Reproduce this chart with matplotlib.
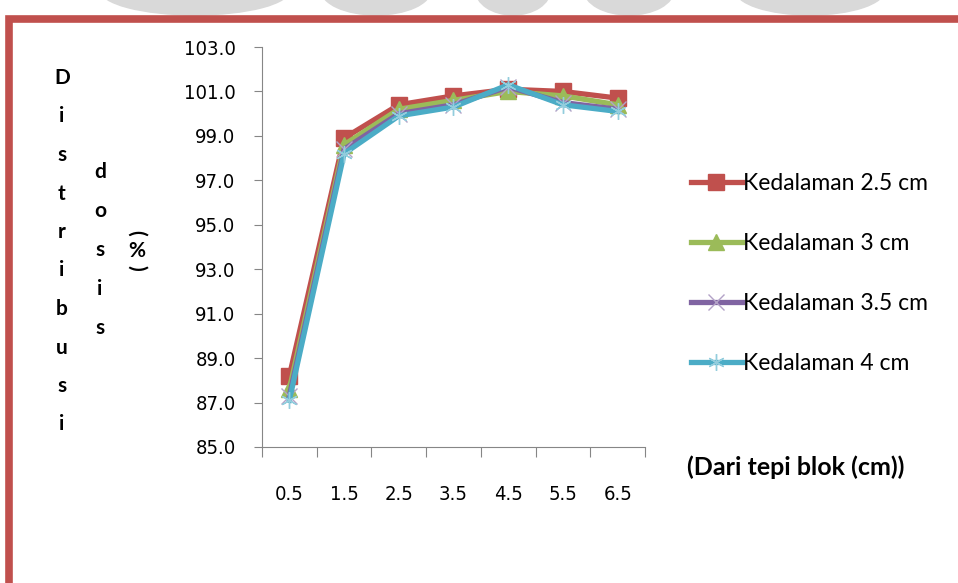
import numpy as np
import matplotlib.pyplot as plt
from matplotlib.lines import Line2D
from matplotlib.patches import Ellipse

# jarak dari tepi blok (cm) dan distribusi dosis (%) untuk tiap kedalaman
jarak = ["0.5", "1.5", "2.5", "3.5", "4.5", "5.5", "6.5"]
d25 = [88.2, 98.9, 100.4, 100.8, 101.1, 101.0, 100.7]
d30 = [87.6, 98.6, 100.2, 100.6, 101.0, 100.8, 100.4]
d35 = [87.3, 98.4, 100.0, 100.4, 101.2, 100.5, 100.2]
d40 = [87.1, 98.2, 99.9, 100.3, 101.3, 100.4, 100.1]
nama = ["Kedalaman 2.5 cm", "Kedalaman 3 cm", "Kedalaman 3.5 cm", "Kedalaman 4 cm"]
y_ticks = [85.0, 87.0, 89.0, 91.0, 93.0, 95.0, 97.0, 99.0, 101.0, 103.0]

W, H = 958, 583


def px(x, y):
    return x / W, 1 - y / H


fig = plt.figure(figsize=(W / 100, H / 100), dpi=100)

# watermark abu-abu di bagian atas (tertutup bingkai)
for cx, w in [(195, 190), (376, 110), (513, 75), (629, 90), (810, 150)]:
    e = Ellipse(px(cx, -10), w / W, 50 / H, transform=fig.transFigure,
                color="#d9d9d9", zorder=0)
    fig.patches.append(e)

# bingkai merah
fig.add_artist(Line2D([9 / W, 9 / W, 1.01], [-0.01, 1 - 19 / H, 1 - 19 / H],
                      transform=fig.transFigure, color="#c0504d", lw=5.5,
                      solid_joinstyle="miter"))

ax = fig.add_axes([262 / W, 1 - 447 / H, 383 / W, 400 / H])
x = np.arange(len(jarak))
gaya = [
    dict(color="#c0504d", marker="s", ms=11, mfc="#c0504d", mec="#c0504d"),
    dict(color="#9bbb59", marker="^", ms=11, mfc="#9bbb59", mec="#9bbb59"),
    dict(color="#8064a2", marker="x", ms=11, mew=1.0, mec="#b3a2c7"),
    dict(color="#4bacc6", marker=(6, 2, 0), ms=12, mew=1.0, mec="#93cddd"),
]
for data, label, g in zip([d25, d30, d35, d40], nama, gaya):
    ax.plot(x, data, lw=3.8, label=label, clip_on=False, **g)

tick_font = dict(fontfamily="DejaVu Sans", fontstretch="condensed", fontsize=14.5)
ax.set_xlim(-0.5, len(jarak) - 0.5)
ax.set_ylim(85, 103)
ax.set_yticks(y_ticks)
ax.set_yticklabels([f"{v:.1f}" for v in y_ticks], **tick_font)
ax.set_xticks(np.arange(-0.5, len(jarak)), labels=[])
ax.set_xticks(x, minor=True)
ax.set_xticklabels(jarak, minor=True, **tick_font)
ax.tick_params(axis="x", which="minor", length=0, pad=27)
ax.tick_params(axis="x", which="major", length=7, color="#868686")
ax.tick_params(axis="y", length=6, color="#868686", pad=13)
for s in ["top", "right"]:
    ax.spines[s].set_visible(False)
for s in ["left", "bottom"]:
    ax.spines[s].set_color("#868686")

leg = fig.legend(loc="upper left", bbox_to_anchor=px(682, 164), frameon=False,
                 prop={"family": "Lato", "size": 16.5}, handlelength=2.2,
                 handletextpad=0.05, labelspacing=1.7, borderaxespad=0)

# label sumbu ditulis huruf per huruf secara vertikal
lab = dict(family="Lato", fontweight="bold", fontsize=15, ha="center", va="center")
for i, ch in enumerate("Distribusi"):
    fig.text(*px(62, 78 + i * 38.5), ch, **lab)
for i, ch in enumerate("dosis"):
    fig.text(*px(100, 172 + i * 39), ch, **lab)
fig.text(*px(137, 233), "(", rotation=-90, **lab)
fig.text(*px(137, 251), "%", **lab)
fig.text(*px(137, 268), ")", rotation=-90, **lab)
fig.text(*px(687, 467), "(Dari tepi blok (cm))", family="Lato", fontweight="bold",
         fontsize=18, ha="left", va="center")

fig.savefig("out.png", dpi=100)
